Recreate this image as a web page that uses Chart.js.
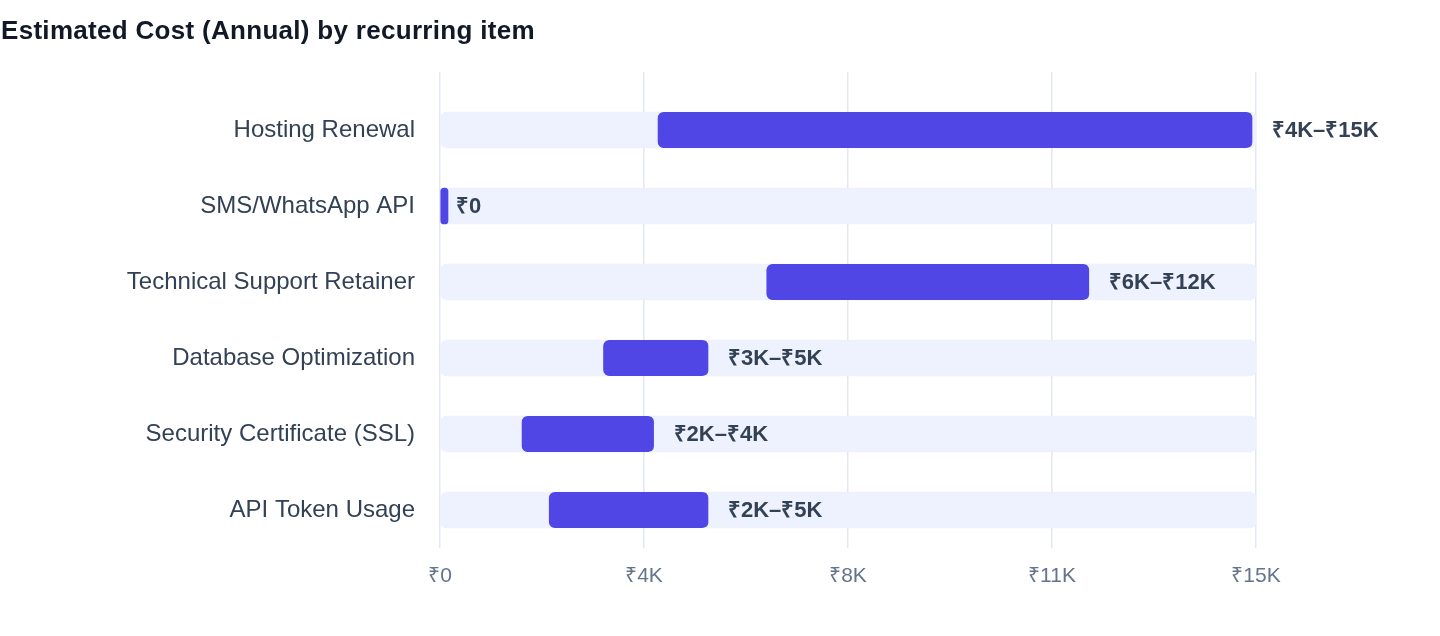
<!DOCTYPE html>
<html>
<head>
<meta charset="utf-8">
<script src="https://cdn.jsdelivr.net/npm/chart.js@4.4.1/dist/chart.umd.min.js"></script>
<style>
  html, body { margin: 0; padding: 0; background: #ffffff; }
  #wrap { position: relative; width: 1440px; height: 636px; }
  #title { position: absolute; left: 1px; top: 15px; font-family: "Liberation Sans", Arial, Helvetica, sans-serif; font-weight: bold; font-size: 26px; letter-spacing: 0.3px; color: #111827; white-space: nowrap; }
  #c { position: absolute; left: 0; top: 0; }
</style>
</head>
<body>
<div id="wrap">
  <canvas id="c" width="1440" height="636"></canvas>
  <div id="title">Estimated Cost (Annual) by recurring item</div>
</div>
<script>
const categories = ["Hosting Renewal", "SMS/WhatsApp API", "Technical Support Retainer", "Database Optimization", "Security Certificate (SSL)", "API Token Usage"];
const rangeStart = [4000, 0, 6000, 3000, 1500, 2000];
const rangeEnd   = [15000, 0, 12000, 5000, 4000, 5000];
const axisMax = 15000;
const tickStep = 3750;

const fmtK = v => v === 0 ? "₹0" : "₹" + Math.round(v / 1000) + "K";
const rangeLabel = i => (rangeStart[i] === 0 && rangeEnd[i] === 0) ? "₹0" : fmtK(rangeStart[i]) + "–" + fmtK(rangeEnd[i]);

const FONT = '"Liberation Sans", Arial, Helvetica, sans-serif';
Chart.defaults.font.family = FONT;

const valueLabels = {
  id: "valueLabels",
  afterDatasetsDraw(chart) {
    const ctx = chart.ctx;
    const meta = chart.getDatasetMeta(0);
    const xs = chart.scales.x;
    ctx.save();
    ctx.font = "bold 22px " + FONT;
    ctx.fillStyle = "#334155";
    ctx.textAlign = "left";
    ctx.textBaseline = "middle";
    meta.data.forEach((bar, i) => {
      const x = xs.getPixelForValue(rangeEnd[i]) + 16;
      ctx.fillText(rangeLabel(i), x, bar.y + 1);
    });
    ctx.restore();
  }
};

const isZero = i => rangeEnd[i] === rangeStart[i];

new Chart(document.getElementById("c"), {
  type: "bar",
  data: {
    labels: categories,
    datasets: [
      {
        label: "Range",
        data: categories.map((_, i) => [rangeStart[i], rangeEnd[i]]),
        backgroundColor: "#4f46e5",
        borderColor: "rgba(0,0,0,0)",
        borderWidth: ctx => isZero(ctx.dataIndex) ? 0 : {top: 0, left: 0, bottom: 0, right: 4},
        borderSkipped: false,
        borderRadius: ctx => isZero(ctx.dataIndex) ? 4 : {topLeft: 6, bottomLeft: 6, topRight: 10, bottomRight: 10},
        minBarLength: 8,
        barThickness: 36,
        grouped: false
      },
      {
        label: "Track",
        data: categories.map(() => [0, axisMax]),
        backgroundColor: "#eef2ff",
        borderWidth: 0,
        borderSkipped: false,
        borderRadius: 6,
        barThickness: 36,
        grouped: false
      }
    ]
  },
  options: {
    indexAxis: "y",
    responsive: false,
    animation: false,
    layout: { padding: { top: 72, right: 184, bottom: 0, left: 0 } },
    plugins: {
      legend: { display: false },
      tooltip: { enabled: false },
      title: { display: false }
    },
    scales: {
      x: {
        position: "bottom",
        min: 0,
        max: axisMax,
        border: { display: false },
        grid: { color: "#e2e8f0", lineWidth: 1.5, drawTicks: false },
        ticks: {
          stepSize: tickStep,
          color: "#64748b",
          font: { size: 21 },
          padding: 16,
          callback: v => fmtK(v)
        },
        afterFit: s => { s.height = 88; }
      },
      x2: {
        position: "top",
        axis: "x",
        min: 0,
        max: axisMax,
        border: { display: false },
        grid: { color: "#e2e8f0", lineWidth: 1.5, drawOnChartArea: false, drawTicks: true, tickLength: 20 },
        ticks: { stepSize: tickStep, display: false },
        afterFit: s => { s.height = 20; }
      },
      y: {
        border: { display: false },
        grid: { display: false, drawTicks: false },
        ticks: { color: "#334155", font: { size: 24 }, padding: 25 },
        afterFit: s => { s.width = 440; }
      }
    }
  },
  plugins: [valueLabels]
});
</script>
</body>
</html>
